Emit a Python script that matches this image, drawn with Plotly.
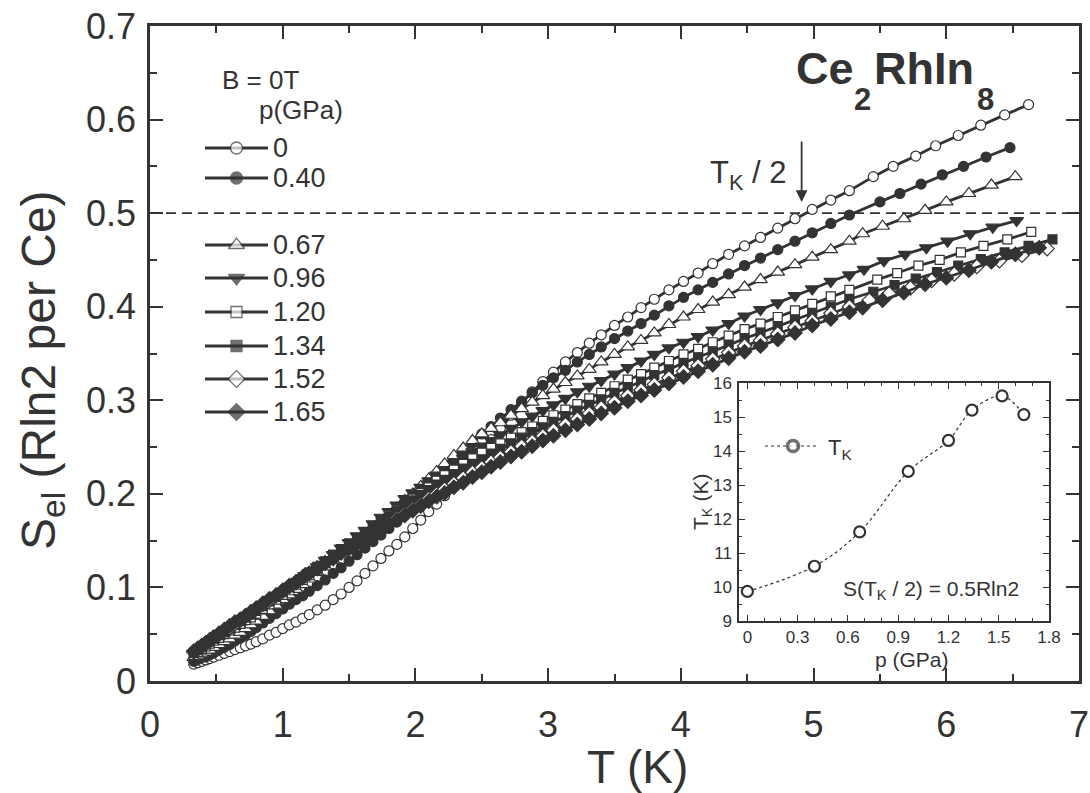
import plotly.graph_objects as go

# ---------------------------------------------------------------------------
# Electronic entropy of Ce2RhIn8 at B = 0 T for several pressures
# ---------------------------------------------------------------------------

# Temperature grid shared by the low/intermediate-T part of every curve (K)
T_GRID = [0.33, 0.36, 0.39, 0.42, 0.45, 0.48, 0.52, 0.56, 0.60, 0.64, 0.68, 0.72, 0.76, 0.80,
          0.85, 0.90, 0.95, 1.00, 1.05, 1.10, 1.15, 1.20,
          1.26, 1.32, 1.38, 1.44, 1.50, 1.56, 1.62, 1.68, 1.74, 1.80, 1.86, 1.92, 1.98, 2.04, 2.10, 2.16, 2.22,
          2.29, 2.36, 2.43, 2.50, 2.57, 2.64,
          2.72, 2.80, 2.88, 2.96, 3.04,
          3.13, 3.22, 3.31, 3.40,
          3.50, 3.60, 3.70, 3.80,
          3.91, 4.02, 4.13, 4.24,
          4.36, 4.48, 4.60,
          4.73, 4.86, 4.99,
          5.13, 5.27]

# S_el (R ln2 per Ce) on T_GRID, one list per pressure
S_P000 = [0.018, 0.0195, 0.021, 0.0225, 0.024, 0.0255, 0.0275, 0.0295, 0.0315, 0.0335, 0.0355, 0.0375, 0.0395, 0.042,
          0.045, 0.049, 0.052, 0.056, 0.060, 0.063, 0.067, 0.071,
          0.076, 0.081, 0.087, 0.093, 0.100, 0.107, 0.115, 0.123, 0.131, 0.139, 0.146, 0.154, 0.163, 0.172, 0.181, 0.189, 0.198,
          0.209, 0.221, 0.234, 0.246, 0.258, 0.270,
          0.284, 0.297, 0.309, 0.320, 0.330,
          0.341, 0.351, 0.361, 0.370,
          0.380, 0.389, 0.399, 0.408,
          0.418, 0.427, 0.436, 0.446,
          0.456, 0.465, 0.474,
          0.484, 0.494, 0.504,
          0.514, 0.524]
S_P040 = [0.021, 0.023, 0.025, 0.026, 0.028, 0.030, 0.033, 0.036, 0.039, 0.043, 0.046, 0.049, 0.053, 0.057,
          0.062, 0.067, 0.072, 0.077, 0.082, 0.087, 0.091, 0.096,
          0.102, 0.108, 0.115, 0.121, 0.128, 0.135, 0.142, 0.149, 0.156, 0.163, 0.170, 0.179, 0.187, 0.196, 0.205, 0.214, 0.223,
          0.234, 0.244, 0.254, 0.264, 0.272, 0.281,
          0.290, 0.299, 0.308, 0.316, 0.324,
          0.332, 0.341, 0.349, 0.357,
          0.366, 0.374, 0.382, 0.391,
          0.401, 0.410, 0.418, 0.426,
          0.435, 0.444, 0.452,
          0.461, 0.470, 0.479,
          0.489, 0.498]
S_P067 = [0.025, 0.027, 0.029, 0.031, 0.033, 0.036, 0.039, 0.042, 0.045, 0.049, 0.052, 0.056, 0.060, 0.064,
          0.069, 0.075, 0.081, 0.087, 0.092, 0.098, 0.103, 0.109,
          0.116, 0.122, 0.129, 0.136, 0.143, 0.150, 0.157, 0.164, 0.171, 0.178, 0.185, 0.193, 0.200, 0.208, 0.216, 0.224, 0.232,
          0.241, 0.249, 0.257, 0.264, 0.270, 0.276,
          0.284, 0.291, 0.298, 0.305, 0.312,
          0.319, 0.326, 0.333, 0.341,
          0.349, 0.357, 0.364, 0.372,
          0.381, 0.389, 0.397, 0.405,
          0.413, 0.421, 0.429,
          0.437, 0.445, 0.453,
          0.461, 0.470]
S_P096 = [0.029, 0.032, 0.035, 0.038, 0.041, 0.044, 0.047, 0.051, 0.055, 0.059, 0.062, 0.066, 0.070, 0.073,
          0.078, 0.083, 0.089, 0.094, 0.099, 0.105, 0.110, 0.116,
          0.122, 0.129, 0.135, 0.142, 0.148, 0.155, 0.161, 0.168, 0.175, 0.181, 0.188, 0.195, 0.201, 0.207, 0.214, 0.220, 0.226,
          0.232, 0.238, 0.245, 0.251, 0.257, 0.263,
          0.270, 0.277, 0.283, 0.289, 0.295,
          0.302, 0.309, 0.315, 0.321,
          0.328, 0.335, 0.342, 0.349,
          0.356, 0.362, 0.368, 0.375,
          0.382, 0.390, 0.397,
          0.404, 0.412, 0.419,
          0.427, 0.434]
S_P120 = [0.028, 0.031, 0.034, 0.037, 0.040, 0.043, 0.046, 0.050, 0.054, 0.057, 0.061, 0.065, 0.068, 0.072,
          0.077, 0.082, 0.087, 0.092, 0.097, 0.103, 0.108, 0.113,
          0.119, 0.126, 0.132, 0.139, 0.145, 0.151, 0.158, 0.164, 0.170, 0.177, 0.183, 0.189, 0.195, 0.201, 0.207, 0.214, 0.220,
          0.226, 0.232, 0.238, 0.244, 0.249, 0.254,
          0.260, 0.266, 0.272, 0.278, 0.284,
          0.290, 0.296, 0.302, 0.308,
          0.315, 0.322, 0.328, 0.335,
          0.342, 0.349, 0.355, 0.362,
          0.369, 0.376, 0.382,
          0.389, 0.396, 0.403,
          0.411, 0.418]
S_P134 = [0.030, 0.033, 0.036, 0.039, 0.042, 0.045, 0.049, 0.052, 0.056, 0.060, 0.064, 0.068, 0.071, 0.075,
          0.080, 0.085, 0.090, 0.095, 0.100, 0.105, 0.111, 0.116,
          0.122, 0.128, 0.135, 0.141, 0.147, 0.153, 0.159, 0.165, 0.171, 0.176, 0.182, 0.188, 0.193, 0.199, 0.204, 0.210, 0.215,
          0.221, 0.227, 0.232, 0.237, 0.243, 0.248,
          0.254, 0.260, 0.266, 0.271, 0.277,
          0.283, 0.289, 0.295, 0.301,
          0.308, 0.314, 0.320, 0.327,
          0.333, 0.340, 0.346, 0.352,
          0.359, 0.366, 0.372,
          0.379, 0.386, 0.393,
          0.400, 0.408]
S_P152 = [0.031, 0.034, 0.037, 0.040, 0.043, 0.046, 0.050, 0.054, 0.057, 0.061, 0.065, 0.069, 0.073, 0.077,
          0.082, 0.086, 0.091, 0.096, 0.101, 0.105, 0.110, 0.115,
          0.120, 0.126, 0.131, 0.137, 0.142, 0.147, 0.153, 0.158, 0.163, 0.168, 0.174, 0.179, 0.184, 0.189, 0.195, 0.200, 0.205,
          0.211, 0.217, 0.223, 0.228, 0.234, 0.239,
          0.245, 0.251, 0.256, 0.262, 0.268,
          0.274, 0.280, 0.286, 0.292,
          0.298, 0.305, 0.311, 0.317,
          0.324, 0.331, 0.337, 0.344,
          0.351, 0.358, 0.364,
          0.371, 0.378, 0.385,
          0.393, 0.400]
S_P165 = [0.032, 0.035, 0.038, 0.041, 0.044, 0.047, 0.051, 0.055, 0.059, 0.063, 0.066, 0.070, 0.074, 0.078,
          0.083, 0.088, 0.092, 0.097, 0.102, 0.106, 0.111, 0.115,
          0.121, 0.126, 0.131, 0.137, 0.142, 0.147, 0.152, 0.157, 0.162, 0.167, 0.172, 0.177, 0.182, 0.187, 0.192, 0.197, 0.201,
          0.207, 0.212, 0.218, 0.223, 0.229, 0.234,
          0.240, 0.245, 0.251, 0.257, 0.262,
          0.268, 0.274, 0.280, 0.286,
          0.292, 0.299, 0.305, 0.311,
          0.318, 0.325, 0.331, 0.338,
          0.345, 0.352, 0.358,
          0.365, 0.372, 0.380,
          0.387, 0.394]

# High-temperature ends of each curve (own temperature points)
TAIL_T_P000 = [5.45, 5.60, 5.77, 5.92, 6.09, 6.26, 6.44, 6.62]
TAIL_S_P000 = [0.539, 0.550, 0.561, 0.572, 0.583, 0.594, 0.605, 0.616]
TAIL_T_P040 = [5.50, 5.65, 5.81, 5.97, 6.13, 6.30, 6.48]
TAIL_S_P040 = [0.512, 0.521, 0.531, 0.541, 0.550, 0.560, 0.570]
TAIL_T_P067 = [5.37, 5.52, 5.68, 5.84, 6.00, 6.17, 6.34, 6.52]
TAIL_S_P067 = [0.478, 0.486, 0.494, 0.503, 0.512, 0.521, 0.530, 0.539]
TAIL_T_P096 = [5.38, 5.53, 5.69, 5.85, 6.01, 6.18, 6.35, 6.53]
TAIL_S_P096 = [0.440, 0.449, 0.456, 0.463, 0.470, 0.478, 0.485, 0.492]
TAIL_T_P120 = [5.48, 5.63, 5.79, 5.95, 6.11, 6.28, 6.46, 6.64]
TAIL_S_P120 = [0.429, 0.436, 0.444, 0.450, 0.458, 0.465, 0.472, 0.480]
TAIL_T_P134 = [5.45, 5.61, 5.77, 5.93, 6.09, 6.26, 6.44, 6.62, 6.80]
TAIL_S_P134 = [0.416, 0.423, 0.430, 0.437, 0.444, 0.451, 0.458, 0.465, 0.472]
TAIL_T_P152 = [5.42, 5.57, 5.73, 5.89, 6.06, 6.23, 6.40, 6.57, 6.76]
TAIL_S_P152 = [0.407, 0.414, 0.420, 0.428, 0.435, 0.443, 0.449, 0.455, 0.462]
TAIL_T_P165 = [5.37, 5.52, 5.68, 5.84, 6.00, 6.17, 6.34, 6.52, 6.70]
TAIL_S_P165 = [0.399, 0.407, 0.415, 0.424, 0.431, 0.439, 0.448, 0.456, 0.463]

PRESSURE_LABELS = ["0", "0.40", "0.67", "0.96", "1.20", "1.34", "1.52", "1.65"]

# Inset: Kondo temperature vs pressure, from S(T_K/2) = 0.5 R ln2
P_GPA = [0.0, 0.40, 0.67, 0.96, 1.20, 1.34, 1.52, 1.65]
TK_K = [9.87, 10.61, 11.62, 13.40, 14.31, 15.20, 15.62, 15.07]

S_HALF = 0.5          # reference level of the dashed line
ARROW_T = 4.91        # T_K/2 at ambient pressure

# ---------------------------------------------------------------------------
INK = "#333333"
FONT = "Liberation Sans, Arial, Helvetica, sans-serif"
W, H = 1090, 793
PL, PR, PT, PB = 150, 1079, 26, 681   # plot-area edges in pixels


def fx(x):
    return (x - PL) / (PR - PL)


def fy(y):
    return (PB - y) / (PB - PT)


series = [
    (S_P000, TAIL_T_P000, TAIL_S_P000, "circle", "white", 10),
    (S_P040, TAIL_T_P040, TAIL_S_P040, "circle", INK, 10),
    (S_P067, TAIL_T_P067, TAIL_S_P067, "triangle-up", "white", 12),
    (S_P096, TAIL_T_P096, TAIL_S_P096, "triangle-down", INK, 12),
    (S_P120, TAIL_T_P120, TAIL_S_P120, "square", "white", 9),
    (S_P134, TAIL_T_P134, TAIL_S_P134, "square", INK, 9),
    (S_P152, TAIL_T_P152, TAIL_S_P152, "diamond", "white", 11),
    (S_P165, TAIL_T_P165, TAIL_S_P165, "diamond", INK, 11),
]

fig = go.Figure()

# main curves
for (s_grid, t_tail, s_tail, sym, fill, size), lab in zip(series, PRESSURE_LABELS):
    fig.add_trace(go.Scatter(
        x=T_GRID[:len(s_grid)] + t_tail, y=s_grid + s_tail,
        mode="lines+markers", name=lab, showlegend=False,
        line=dict(color=INK, width=2.8),
        marker=dict(symbol=sym, size=size, color=fill, line=dict(color=INK, width=1.2)),
        xaxis="x", yaxis="y", cliponaxis=False,
    ))

# inset: T_K(p)
fig.add_trace(go.Scatter(
    x=P_GPA, y=TK_K, mode="lines+markers", showlegend=False,
    line=dict(color=INK, width=1.2, dash="dot", shape="spline", smoothing=1.0),
    marker=dict(symbol="circle", size=11, color="white", line=dict(color=INK, width=2.2)),
    xaxis="x2", yaxis="y2",
))

# hand-drawn key (pixel-coordinate overlay axes)
LEG_Y = [148, 178, 245, 278, 312, 346, 379, 412]
for (s_grid, t_tail, s_tail, sym, fill, size), ly in zip(series, LEG_Y):
    fig.add_trace(go.Scatter(
        x=[205, 236.5, 268], y=[ly, ly, ly], mode="lines+markers", showlegend=False,
        line=dict(color=INK, width=2.8),
        marker=dict(symbol=sym, size=[0, size + 2, 0], color=fill, line=dict(color=INK, width=1.3)),
        xaxis="x3", yaxis="y3", hoverinfo="skip",
    ))
# inset key
fig.add_trace(go.Scatter(
    x=[765, 793, 818], y=[446, 446, 446], mode="lines+markers", showlegend=False,
    line=dict(color=INK, width=1.2, dash="dot"),
    marker=dict(symbol="circle", size=[0, 11, 0], color="white", line=dict(color=INK, width=3.5)),
    xaxis="x3", yaxis="y3", hoverinfo="skip",
))

axis_common = dict(
    showline=True, linecolor=INK, mirror="allticks", ticks="inside",
    tickcolor=INK, showgrid=False, zeroline=False, automargin=False,
)

fig.update_layout(
    template="none",
    width=W, height=H,
    margin=dict(l=PL, r=W - PR, t=PT, b=H - PB, autoexpand=False),
    paper_bgcolor="white", plot_bgcolor="rgba(0,0,0,0)",
    font=dict(family=FONT, color=INK),
    xaxis=dict(domain=[0, 1], range=[0, 7], dtick=1, tick0=0, anchor="y",
               linewidth=2.5, ticklen=13, tickwidth=2, ticklabelstandoff=10,
               minor=dict(dtick=0.5, ticks="inside", ticklen=7, tickwidth=2, tickcolor=INK),
               tickfont=dict(family=FONT, color=INK, size=36), **axis_common),
    yaxis=dict(domain=[0, 1], range=[0, 0.7], dtick=0.1, tick0=0, anchor="x",
               linewidth=2.5, ticklen=13, tickwidth=2, ticklabelstandoff=4,
               minor=dict(dtick=0.05, ticks="inside", ticklen=7, tickwidth=2, tickcolor=INK),
               tickformat="~g",
               tickfont=dict(family=FONT, color=INK, size=36), **axis_common),
    xaxis2=dict(domain=[fx(739), fx(1049)], range=[-0.05, 1.8], dtick=0.3, tick0=0, anchor="y2",
                linewidth=1.5, ticklen=6, tickwidth=1.2, ticklabelstandoff=0,
                tickformat="~g",
                minor=dict(dtick=0.1, ticks="inside", ticklen=3, tickwidth=1, tickcolor=INK),
                tickfont=dict(family=FONT, color=INK, size=17), **axis_common),
    yaxis2=dict(domain=[fy(621), fy(383)], range=[9, 16], dtick=1, anchor="x2",
                linewidth=1.5, ticklen=6, tickwidth=1.2, ticklabelstandoff=2,
                minor=dict(dtick=0.5, ticks="inside", ticklen=3, tickwidth=1, tickcolor=INK),
                tickfont=dict(family=FONT, color=INK, size=17), **axis_common),
    xaxis3=dict(domain=[0, 1], range=[PL, PR], visible=False, anchor="y3", fixedrange=True),
    yaxis3=dict(domain=[0, 1], range=[PB, PT], visible=False, anchor="x3", fixedrange=True),
)

# dashed S = 0.5 line
fig.add_shape(type="line", xref="x domain", yref="y", x0=0, x1=1, y0=S_HALF, y1=S_HALF,
              line=dict(color=INK, width=1.6, dash="10px,6px"), layer="below")


def ann(text, x, y, size, xanchor="center", yanchor="middle", **kw):
    fig.add_annotation(text=text, x=fx(x), y=fy(y), xref="paper", yref="paper",
                       xanchor=xanchor, yanchor=yanchor, showarrow=False,
                       font=dict(family=FONT, size=size, color=INK), **kw)


# axis titles
ann("S<sub>el</sub> (Rln2 per Ce)", 42, 370, 48, textangle=-90)
ann("T (K)", 637, 767, 46)
# compound name, with deep subscripts
ann("<b>Ce</b>", 794, 69, 45, xanchor="left")
ann("<b>2</b>", 852, 99, 31, xanchor="left")
ann("<b>RhIn</b>", 872, 69, 45, xanchor="left")
ann("<b>8</b>", 975, 99, 31, xanchor="left")
# key header and labels
ann("B = 0T", 220, 80, 26, xanchor="left")
ann("p(GPa)", 257, 110, 26, xanchor="left")
for lab, ly in zip(PRESSURE_LABELS, LEG_Y):
    ann(lab, 271, ly, 27, xanchor="left")
# T_K/2 marker
ann("T<sub>K</sub> / 2", 789, 175, 31, xanchor="right")
fig.add_annotation(x=ARROW_T, y=0.512, xref="x", yref="y", ax=0, ay=-62, text="",
                   showarrow=True, arrowhead=2, arrowsize=1.3, arrowwidth=1.8, arrowcolor=INK)
# inset texts
ann("T<sub>K</sub>", 826, 449, 22, xanchor="left")
ann("S(T<sub>K</sub> / 2) = 0.5Rln2", 931, 590, 21)
ann("p (GPa)", 912, 659, 21)
ann("T<sub>K</sub> (K)", 702, 502, 21, textangle=-90)

fig.write_html("out.html")
